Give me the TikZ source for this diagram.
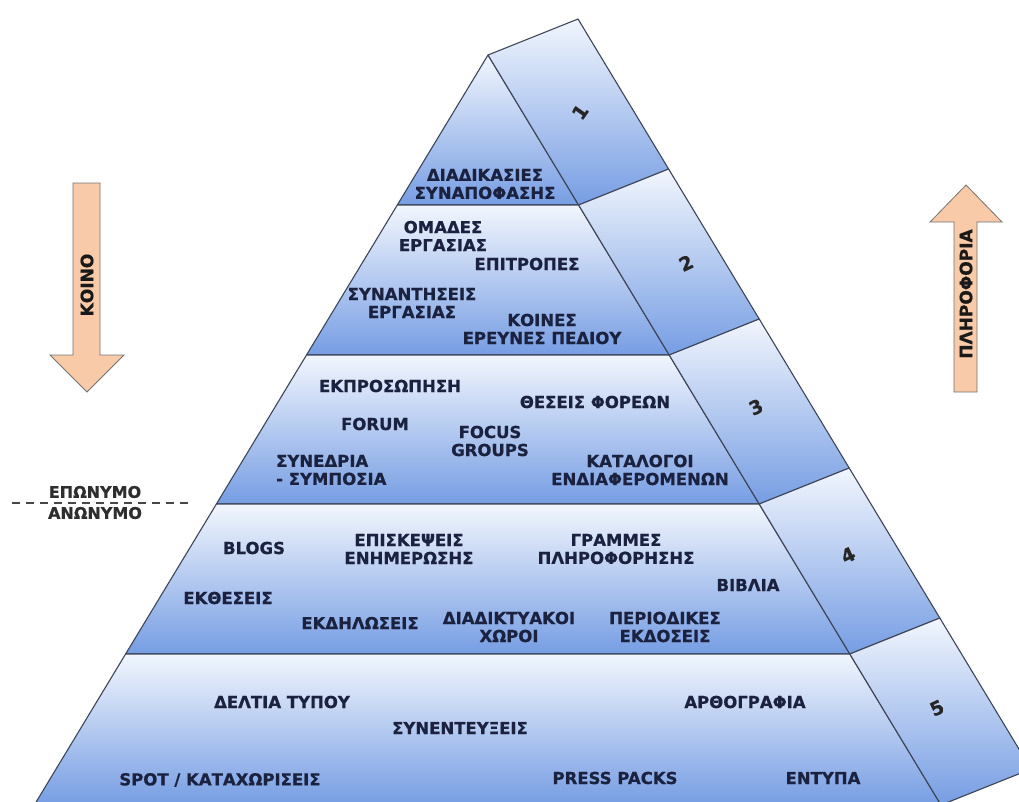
\documentclass[tikz,border=0pt]{standalone}
\usepackage{fontspec}
\setmainfont{DejaVu Sans}[BoldFeatures={FakeBold=0.8}]

\definecolor{bandlight}{HTML}{F2F6FD}
\definecolor{banddark}{HTML}{769DE3}
\definecolor{edgegray}{HTML}{3D4558}
\definecolor{labelnavy}{HTML}{1B2240}
\definecolor{arrowpeach}{HTML}{F9CAA8}

\tikzset{
  band/.style={draw=edgegray, line width=1.1pt, top color=bandlight, bottom color=banddark, line join=round},
  lbl/.style={font=\fontsize{16.5}{18}\selectfont\bfseries, text=labelnavy, align=center, inner sep=0pt},
  tiernum/.style={font=\fontsize{19}{19}\selectfont\bfseries, text=black!85, inner sep=0pt},
  bigarrow/.style={draw=black!55, line width=0.8pt, fill=arrowpeach, line join=miter},
  arrowtext/.style={font=\fontsize{17}{17}\selectfont\bfseries, text=black!90, rotate=90, inner sep=0pt},
  sidetext/.style={font=\fontsize{16}{18}\selectfont\bfseries, text=black!82, inner sep=0pt},
  sepline/.style={draw=black!72, line width=1.6pt, dash pattern=on 8pt off 6pt}
}

\begin{document}
\begin{tikzpicture}[x=1pt, y=-1pt]
    \useasboundingbox (0,0) rectangle (1019,801);
    \clip (0,0) rectangle (1019,801);

    % corners of the pyramid
    \coordinate (a0) at (488,55);
    \coordinate (l1) at (397.3,205);
    \coordinate (r1) at (578.6,205);
    \coordinate (l2) at (306.5,355);
    \coordinate (r2) at (669.2,355);
    \coordinate (l3) at (216.4,504);
    \coordinate (r3) at (759.2,504);
    \coordinate (l4) at (125.6,654);
    \coordinate (r4) at (849.8,654);
    \coordinate (l5) at (34.3,805);
    \coordinate (r5) at (941,805);
    \coordinate (b0) at (578,19);
    \coordinate (b1) at (668.6,169);
    \coordinate (b2) at (759.2,319);
    \coordinate (b3) at (849.2,468);
    \coordinate (b4) at (939.8,618);
    \coordinate (b5) at (1031,769);

    % front face
    \path[band] (a0) -- (r1) -- (l1) -- cycle;
    \path[band] (l1) -- (r1) -- (r2) -- (l2) -- cycle;
    \path[band] (l2) -- (r2) -- (r3) -- (l3) -- cycle;
    \path[band] (l3) -- (r3) -- (r4) -- (l4) -- cycle;
    \path[band] (l4) -- (r4) -- (r5) -- (l5) -- cycle;

    % side face
    \path[band] (a0) -- (b0) -- (b1) -- (r1) -- cycle;
    \path[band] (r1) -- (b1) -- (b2) -- (r2) -- cycle;
    \path[band] (r2) -- (b2) -- (b3) -- (r3) -- cycle;
    \path[band] (r3) -- (b3) -- (b4) -- (r4) -- cycle;
    \path[band] (r4) -- (b4) -- (b5) -- (r5) -- cycle;

    \node[tiernum, rotate=55] (n1) at (580,112) {1};
    \node[tiernum, rotate=25] (n2) at (686,263) {2};
    \node[tiernum, rotate=25] (n3) at (756,407) {3};
    \node[tiernum, rotate=25] (n4) at (848,555) {4};
    \node[tiernum, rotate=25] (n5) at (937,708) {5};

    % tier 1
    \node[lbl] (synapofasi) at (485,184) {ΔΙΑΔΙΚΑΣΙΕΣ\\ΣΥΝΑΠΟΦΑΣΗΣ};

    % tier 2
    \node[lbl] (omades) at (443,236) {ΟΜΑΔΕΣ\\ΕΡΓΑΣΙΑΣ};
    \node[lbl] (epitropes) at (527,264) {ΕΠΙΤΡΟΠΕΣ};
    \node[lbl] (synantiseis) at (412,303) {ΣΥΝΑΝΤΗΣΕΙΣ\\ΕΡΓΑΣΙΑΣ};
    \node[lbl] (koines) at (542,329) {ΚΟΙΝΕΣ\\ΕΡΕΥΝΕΣ ΠΕΔΙΟΥ};

    % tier 3
    \node[lbl] (ekprosopisi) at (390,386) {ΕΚΠΡΟΣΩΠΗΣΗ};
    \node[lbl] (theseis) at (595,402) {ΘΕΣΕΙΣ ΦΟΡΕΩΝ};
    \node[lbl] (forum) at (375,424) {FORUM};
    \node[lbl] (focus) at (490,441) {FOCUS\\GROUPS};
    \node[lbl, align=left, anchor=west] (synedria) at (276,470) {ΣΥΝΕΔΡΙΑ\\- ΣΥΜΠΟΣΙΑ};
    \node[lbl] (katalogoi) at (640,470) {ΚΑΤΑΛΟΓΟΙ\\ΕΝΔΙΑΦΕΡΟΜΕΝΩΝ};

    % tier 4
    \node[lbl] (blogs) at (254,548) {BLOGS};
    \node[lbl] (episkepseis) at (409,549) {ΕΠΙΣΚΕΨΕΙΣ\\ΕΝΗΜΕΡΩΣΗΣ};
    \node[lbl] (grammes) at (616,549) {ΓΡΑΜΜΕΣ\\ΠΛΗΡΟΦΟΡΗΣΗΣ};
    \node[lbl] (vivlia) at (748,585) {ΒΙΒΛΙΑ};
    \node[lbl] (ektheseis) at (228,598) {ΕΚΘΕΣΕΙΣ};
    \node[lbl] (ekdiloseis) at (360,623) {ΕΚΔΗΛΩΣΕΙΣ};
    \node[lbl] (diadiktyakoi) at (509,627) {ΔΙΑΔΙΚΤΥΑΚΟΙ\\ΧΩΡΟΙ};
    \node[lbl] (periodikes) at (665,627) {ΠΕΡΙΟΔΙΚΕΣ\\ΕΚΔΟΣΕΙΣ};

    % tier 5
    \node[lbl] (deltia) at (282,702) {ΔΕΛΤΙΑ ΤΥΠΟΥ};
    \node[lbl] (synenteyxeis) at (460,728) {ΣΥΝΕΝΤΕΥΞΕΙΣ};
    \node[lbl] (arthrografia) at (745,702) {ΑΡΘΟΓΡΑΦΙΑ};
    \node[lbl] (spot) at (220,780) {SPOT / ΚΑΤΑΧΩΡΙΣΕΙΣ};
    \node[lbl] (presspacks) at (615,778) {PRESS PACKS};
    \node[lbl] (entypa) at (823,778) {ΕΝΤΥΠΑ};

    % arrows at the sides
    \path[bigarrow] (73,183) -- (100,183) -- (100,355) -- (124,355) -- (87,392)
        -- (50,355) -- (73,355) -- cycle;
    \node[arrowtext] (koino) at (87,285) {ΚΟΙΝΟ};

    \path[bigarrow] (966,185) -- (1002,222) -- (977,222) -- (977,392) -- (954,392)
        -- (954,222) -- (930,222) -- cycle;
    \node[arrowtext] (pliroforia) at (966,294) {ΠΛΗΡΟΦΟΡΙΑ};

    % eponymo / anonymo
    \coordinate (sepL) at (12,503);
    \coordinate (sepR) at (193,503);
    \draw[sepline] (sepL) -- (sepR);
    \node[sidetext] (eponymo) at (95,492) {ΕΠΩΝΥΜΟ};
    \node[sidetext] (anonymo) at (95,513) {ΑΝΩΝΥΜΟ};
\end{tikzpicture}
\end{document}
